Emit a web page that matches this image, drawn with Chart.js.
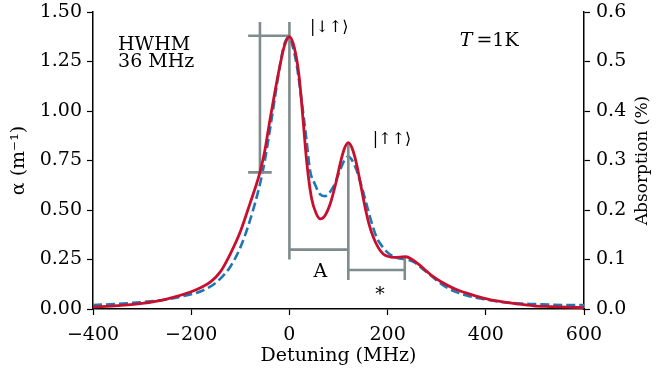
<!DOCTYPE html>
<html>
<head>
<meta charset="utf-8">
<script src="https://cdn.jsdelivr.net/npm/chart.js@4.4.1/dist/chart.umd.min.js"></script>
<style>
  html, body { margin: 0; padding: 0; background: #fff; }
  #wrap { width: 656px; height: 378px; }
</style>
</head>
<body>
<div id="wrap"><canvas id="spectrum" width="656" height="378"></canvas></div>
<script>
// measured spectrum (red, solid)
const redX = [-400, -350, -300, -250, -200, -180, -160, -140, -120, -100, -80, -60, -50, -40, -30, -20, -10, 0,
  10, 20, 28, 35, 45, 55, 63, 72, 83, 95, 103, 112, 120, 128, 137, 145, 154, 162, 171, 181, 191, 202, 212, 225, 237,
  250, 266, 280, 293, 310, 327, 344, 361, 395, 429, 463, 497, 531, 565, 600];
const redY = [0.010, 0.017, 0.028, 0.050, 0.087, 0.108, 0.138, 0.190, 0.280, 0.390, 0.535, 0.690, 0.800, 0.950, 1.090, 1.220, 1.330, 1.375,
  1.320, 1.170, 0.950, 0.750, 0.560, 0.480, 0.455, 0.470, 0.530, 0.640, 0.730, 0.810, 0.840, 0.810, 0.730, 0.630, 0.515, 0.430, 0.362, 0.310, 0.278, 0.265, 0.261, 0.262, 0.264,
  0.250, 0.220, 0.190, 0.163, 0.136, 0.113, 0.095, 0.080, 0.055, 0.038, 0.026, 0.016, 0.012, 0.009, 0.007];

// model (blue, dashed)
const blueX = [-400, -350, -300, -250, -200, -180, -160, -140, -120, -100, -80, -60, -50, -40, -30, -20, -10, -3,
  5, 15, 25, 35, 42, 52, 62, 72, 89, 103, 112, 120, 128, 137, 147, 157, 167, 178, 188, 198, 212, 225, 240,
  255, 270, 290, 313, 340, 361, 395, 429, 463, 497, 531, 565, 600];
const blueY = [0.020, 0.026, 0.035, 0.048, 0.075, 0.090, 0.115, 0.155, 0.215, 0.310, 0.450, 0.630, 0.750, 0.900, 1.060, 1.220, 1.340, 1.370,
  1.340, 1.230, 1.050, 0.850, 0.700, 0.630, 0.580, 0.570, 0.615, 0.700, 0.750, 0.770, 0.750, 0.700, 0.620, 0.530, 0.440, 0.360, 0.320, 0.290, 0.265, 0.255, 0.250,
  0.235, 0.205, 0.165, 0.120, 0.085, 0.068, 0.050, 0.036, 0.029, 0.025, 0.022, 0.020, 0.020];

// grey marker segments: [x1, y1, x2, y2]
const hwhmBar = [[-60, 0.69, -60, 1.45], [-84, 1.38, 0, 1.38], [-84, 0.69, -36, 0.69]];
const splitA = [[0, 0.25, 0, 1.45], [0, 0.30, 120, 0.30], [120, 0.146, 120, 0.84]];
const splitStar = [[120, 0.197, 235, 0.197], [235, 0.146, 235, 0.258]];

const xTicks = [-400, -200, 0, 200, 400, 600];

const labels = [
  { text: 'HWHM', x: -349, y: 1.333, size: 19 },
  { text: '36 MHz', x: -349, y: 1.247, size: 19 },
  { text: '|↓↑⟩', x: 42, y: 1.42, size: 16 },
  { text: '|↑↑⟩', x: 170, y: 0.853, size: 16 },
  { text: 'A', x: 49, y: 0.187, size: 19 },
  { text: '*', x: 175, y: 0.07, size: 19 }
];

const SERIF = '"DejaVu Serif", serif';
const GREY = '#7f8c8d';

function toPoints(xs, ys) {
  return xs.map((x, i) => ({ x: x, y: ys[i] }));
}

function segPoints(segs) {
  const pts = [];
  segs.forEach(s => {
    pts.push({ x: s[0], y: s[1] });
    pts.push({ x: s[2], y: s[3] });
    pts.push({ x: s[2], y: null });
  });
  return pts;
}

const greyData = segPoints(hwhmBar.concat(splitA, splitStar));

const textPlugin = {
  id: 'textPlugin',
  afterDraw(chart) {
    const ctx = chart.ctx;
    const xs = chart.scales.x, ys = chart.scales.y;
    ctx.save();
    ctx.fillStyle = '#000';
    ctx.textBaseline = 'middle';
    ctx.textAlign = 'left';
    labels.forEach(l => {
      ctx.font = l.size + 'px ' + SERIF;
      ctx.fillText(l.text, xs.getPixelForValue(l.x), ys.getPixelForValue(l.y));
    });
    // T = 1K with italic T
    let px = xs.getPixelForValue(347), py = ys.getPixelForValue(1.354);
    ctx.font = 'italic 19px ' + SERIF;
    ctx.fillText('T', px, py);
    px += ctx.measureText('T').width + 4;
    ctx.font = '19px ' + SERIF;
    ctx.fillText('=1K', px, py);
    // right axis title, reading bottom to top
    const area = chart.chartArea;
    ctx.font = '17px ' + SERIF;
    ctx.translate(643, (area.top + area.bottom) / 2);
    ctx.rotate(-Math.PI / 2);
    ctx.textAlign = 'center';
    ctx.fillText('Absorption (%)', 0, 0);
    ctx.restore();
  }
};

new Chart(document.getElementById('spectrum'), {
  type: 'line',
  data: {
    datasets: [
      {
        data: toPoints(redX, redY),
        borderColor: '#c8102e',
        borderWidth: 2.8,
        pointRadius: 0,
        cubicInterpolationMode: 'monotone'
      },
      {
        data: greyData,
        borderColor: GREY,
        borderWidth: 2.6,
        pointRadius: 0,
        spanGaps: false,
        tension: 0
      },
      {
        data: toPoints(blueX, blueY),
        borderColor: '#1f77b4',
        borderWidth: 2.6,
        borderDash: [9, 4],
        pointRadius: 0,
        cubicInterpolationMode: 'monotone'
      }
    ]
  },
  options: {
    responsive: false,
    animation: false,
    events: [],
    layout: { padding: { top: 12, left: 0, right: 0, bottom: 0 } },
    plugins: { legend: { display: false }, tooltip: { enabled: false } },
    scales: {
      x: {
        type: 'linear',
        min: -400,
        max: 600,
        afterBuildTicks: scale => { scale.ticks = xTicks.map(v => ({ value: v })); },
        afterFit: scale => { scale.height = 69; scale.paddingLeft = 0; scale.paddingRight = 0; },
        border: { color: '#000', width: 1.5 },
        grid: { drawOnChartArea: false, tickLength: 6, tickColor: '#000', tickWidth: 1.2 },
        ticks: {
          color: '#000',
          padding: 9,
          maxRotation: 0,
          font: { family: SERIF, size: 19 },
          callback: v => String(v).replace('-', '\u2212')
        },
        title: { display: true, text: 'Detuning (MHz)', color: '#000', font: { family: SERIF, size: 19 }, padding: { top: 0, bottom: 11 } }
      },
      y: {
        position: 'left',
        min: 0,
        max: 1.5,
        afterFit: scale => { scale.width = 93; scale.paddingTop = 0; scale.paddingBottom = 0; },
        border: { color: '#000', width: 1.5 },
        grid: { drawOnChartArea: false, tickLength: 6, tickColor: '#000', tickWidth: 1.2 },
        ticks: {
          stepSize: 0.25,
          color: '#000',
          padding: 5,
          font: { family: SERIF, size: 19 },
          callback: v => Number(v).toFixed(2)
        },
        title: { display: true, text: 'α (m⁻¹)', color: '#000', font: { family: SERIF, size: 19 }, padding: { top: 8, bottom: 0 } }
      },
      y1: {
        position: 'right',
        min: 0,
        max: 0.6,
        afterFit: scale => { scale.width = 72; scale.paddingTop = 0; scale.paddingBottom = 0; },
        border: { color: '#000', width: 1.5 },
        grid: { drawOnChartArea: false, tickLength: 6, tickColor: '#000', tickWidth: 1.2 },
        ticks: {
          stepSize: 0.1,
          color: '#000',
          padding: 6,
          font: { family: SERIF, size: 19 },
          callback: v => Number(v).toFixed(1)
        }
      }
    }
  },
  plugins: [textPlugin]
});
</script>
</body>
</html>
